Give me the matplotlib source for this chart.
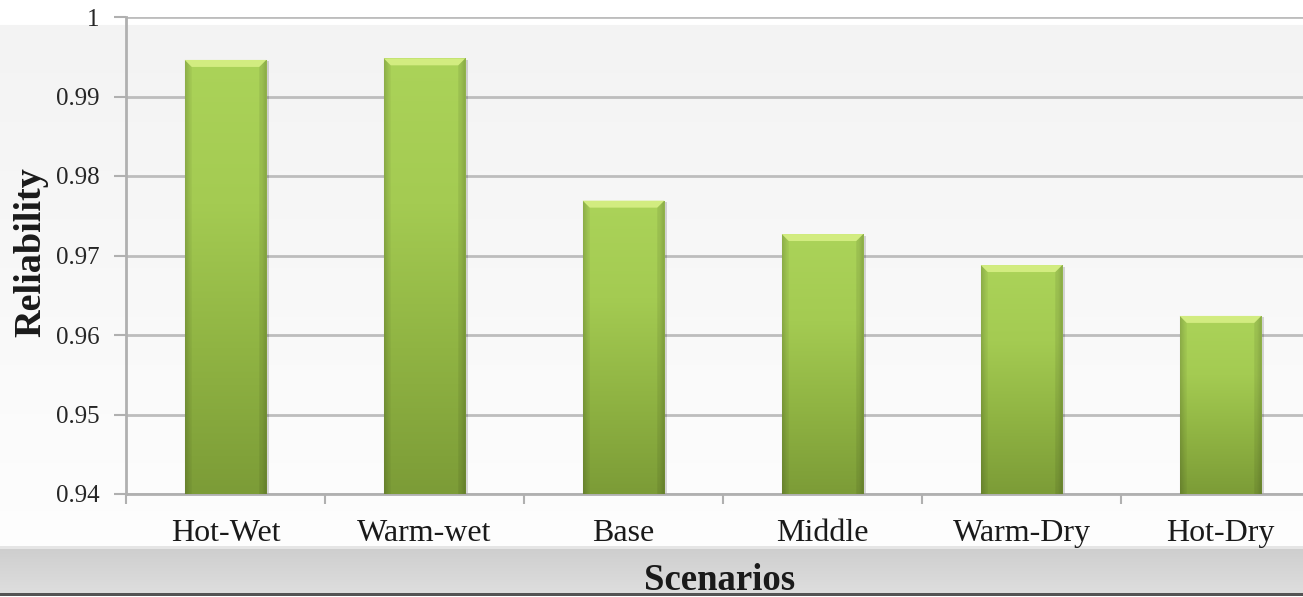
import numpy as np
import matplotlib
matplotlib.use('Agg')
import matplotlib.pyplot as plt
from matplotlib.patches import Polygon, Rectangle
from matplotlib.colors import LinearSegmentedColormap

plt.rcParams['font.family'] = ['Liberation Serif', 'DejaVu Serif']

# reliability per climate scenario
scenarios = ['Hot-Wet', 'Warm-wet', 'Base', 'Middle', 'Warm-Dry', 'Hot-Dry']
reliability = [0.9946, 0.9948, 0.9769, 0.9727, 0.9688, 0.9624]
yticks = [0.94, 0.95, 0.96, 0.97, 0.98, 0.99, 1.0]
ytick_labels = ['0.94', '0.95', '0.96', '0.97', '0.98', '0.99', '1']

W, H = 1303, 597
fig = plt.figure(figsize=(W / 100, H / 100), dpi=100)

# page background: white strip, soft grey fade, grey footer band
bg = fig.add_axes([0, 0, 1, 1], zorder=-10)
bg.set_axis_off()
rows = np.ones(H)
for r in range(H):
    if r < 25:
        v = 1.0
    elif r < 546:
        t = (r - 25) / (546 - 25)
        v = 0.953 + (0.995 - 0.953) * t
    elif r < 549:
        v = 0.90
    elif r < 593:
        t = (r - 549) / (593 - 549)
        v = 0.81 + (0.87 - 0.81) * t
    elif r < 596:
        v = 0.33
    else:
        v = 1.0
    rows[r] = v
bg.imshow(rows[:, None, None] * np.ones((1, 3, 3)),
          aspect='auto', extent=[0, 1, 0, 1], interpolation='bilinear')
bg.set_xlim(0, 1)
bg.set_ylim(0, 1)

ax = fig.add_axes([126 / W, 1 - 494 / H, 1 - 126 / W, (494 - 17) / H])
ax.patch.set_alpha(0)

x = np.arange(len(scenarios))
bw = 0.41
bars = ax.bar(x, reliability, width=bw, bottom=0, color='none', zorder=3)

green = LinearSegmentedColormap.from_list('bar', ['#7c9c37', '#90b443', '#a4cb52', '#abd359'])
px_y = (1.0 - 0.94) / 477.0      # data units per pixel, vertical
px_x = 1.0 / 199.0               # data units per pixel, horizontal
for b, val in zip(bars, reliability):
    x0 = b.get_x()
    x1 = x0 + b.get_width()
    # drop shadow
    ax.add_patch(Rectangle((x0 + 1.5 * px_x, 0.94), b.get_width() + 1.5 * px_x,
                           val - 0.94 - 1.5 * px_y, color='#000000', alpha=0.15,
                           lw=0, zorder=2))
    # vertical gradient with slightly darker side edges
    ny, nx = 200, 80
    vert = np.linspace(1, 0, ny)[:, None]
    cols = np.linspace(0, 1, nx)
    edge = np.clip(np.minimum(cols, 1 - cols) / 0.06, 0, 1)
    shade = 0.88 + 0.12 * edge
    img = green(vert * np.ones((1, nx)))[:, :, :3] * shade[None, :, None]
    im = ax.imshow(img, extent=[x0, x1, 0.94, val], aspect='auto',
                   interpolation='bilinear', zorder=3)
    im.set_clip_path(b)
    # bevelled top edge
    bh = 7 * px_y
    bd = 7 * px_x
    ax.add_patch(Polygon([(x0, val), (x1, val), (x1 - bd, val - bh), (x0 + bd, val - bh)],
                         closed=True, color='#d2ec80', lw=0, zorder=4))
    ax.add_patch(Polygon([(x0, val), (x0 + bd, val - bh), (x0 + bd, 0.94), (x0, 0.94)],
                         closed=True, color='#000000', alpha=0.05, lw=0, zorder=4))
    ax.add_patch(Polygon([(x1, val), (x1 - bd, val - bh), (x1 - bd, 0.94), (x1, 0.94)],
                         closed=True, color='#000000', alpha=0.08, lw=0, zorder=4))

ax.set_ylim(0.94, 1.0)
ax.set_xlim(-0.5, -0.5 + (W - 126) / 199.0)
ax.set_yticks(yticks)
ax.set_yticklabels(ytick_labels, fontsize=18, color='#262626')
ax.yaxis.grid(True, color='#bdbdbd', lw=2, zorder=1)
ax.set_axisbelow(True)

ax.set_xticks(x)
ax.set_xticklabels(scenarios, fontsize=23, color='#1a1a1a')
ax.set_xticks(np.arange(len(scenarios)) - 0.5, minor=True)
ax.tick_params(axis='x', which='major', length=0, pad=18)
ax.tick_params(axis='x', which='minor', length=7, width=1.5, color='#b0b0b0', direction='out')
ax.tick_params(axis='y', length=9, width=1.5, color='#b0b0b0', pad=10)

for s in ['top', 'right']:
    ax.spines[s].set_visible(False)
ax.spines['left'].set_color('#b0b0b0')
ax.spines['left'].set_linewidth(2)
ax.spines['bottom'].set_color('#b0b0b0')
ax.spines['bottom'].set_linewidth(2)

fig.text(720 / W, 1 - 580 / H, 'Scenarios', fontsize=26.5, fontweight='bold',
         ha='center', va='center', color='#1a1a1a')
fig.text(31 / W, 1 - 252 / H, 'Reliability', fontsize=27.5, fontweight='bold',
         rotation=90, ha='center', va='center', color='#1a1a1a')

fig.savefig('out.png', dpi=100)
